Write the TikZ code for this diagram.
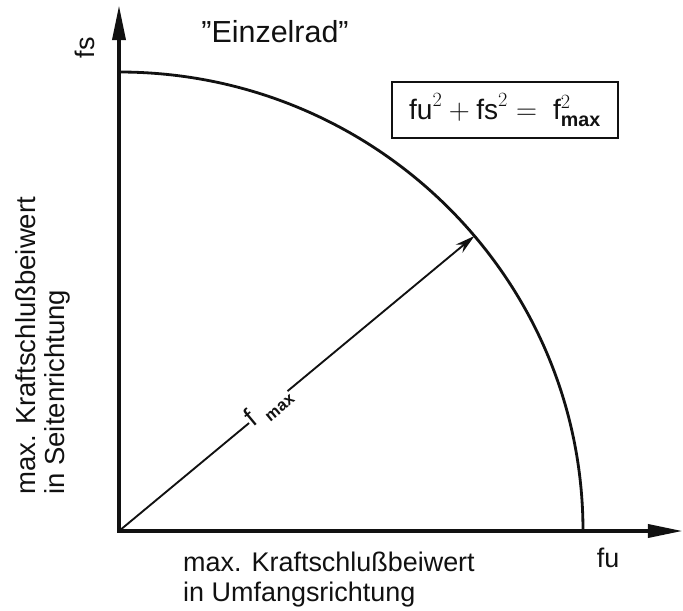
\documentclass[tikz,border=0pt]{standalone}
\usepackage{fontspec}
\setmainfont{Liberation Sans}
\usetikzlibrary{arrows.meta,calc}
\definecolor{ink}{HTML}{111111}

\tikzset{
  axis/.style={ink,line width=3.4pt,
    {Triangle[length=30pt,width=11pt]}-{Triangle[length=30pt,width=11pt]}},
  rim/.style={ink,line width=2.4pt},
  vec/.style={ink,line width=1.6pt,-{Stealth[length=17pt,width=9pt]}},
  lbl/.style={font=\fontsize{23}{25.5}\selectfont,inner sep=0pt},
}

\begin{document}
\begin{tikzpicture}[x=0.3mm,y=0.3mm,text=ink]
  \useasboundingbox (0,0) rectangle (683,610);
  \coordinate (O) at (119,79);
  \coordinate (xend) at (683,79);
  \coordinate (yend) at (119,605);
  \coordinate (P) at ($(O)+(40:464 and 459)$);

  % axes and limit circle
  \draw[axis] (yend) -- (O) -- (xend);
  \draw[rim] (O) ++(0,459) arc[start angle=90,end angle=0,x radius=464,y radius=459];
  \draw[vec] (O) -- node[pos=0.42,sloped,fill=white,inner sep=5pt,lbl]
    (fmax) {f\hspace{0.35em}\raisebox{-0.45ex}{\fontsize{14}{16}\selectfont\bfseries max}} (P);

  \node[lbl,rotate=90] (fs) at (85,562) {fs};
  \node[lbl] (fu) at (608,52) {fu};
  \node[font=\fontsize{26}{30}\selectfont] (title) at (275,578) {"Einzelrad"};

  \node[draw,ink,line width=1.2pt,minimum width=67.8mm,minimum height=16.8mm,
    font=\fontsize{24}{28}\selectfont,inner sep=0pt]
    (law) at (505,500)
    {$\mathrm{fu}^{2} + \mathrm{fs}^{2} = \ \mathrm{f}^{2}_{\mathbf{max}}$};

  \node[lbl,align=left,anchor=north west] (xlbl) at (183,58)
    {max. Kraftschlußbeiwert\\in Umfangsrichtung};
  \node[lbl,align=left,anchor=north west,rotate=90,
    font=\fontsize{23.5}{25}\selectfont] (ylbl) at (15,115)
    {max. Kraftschlußbeiwert\\in Seitenrichtung};
\end{tikzpicture}
\end{document}
